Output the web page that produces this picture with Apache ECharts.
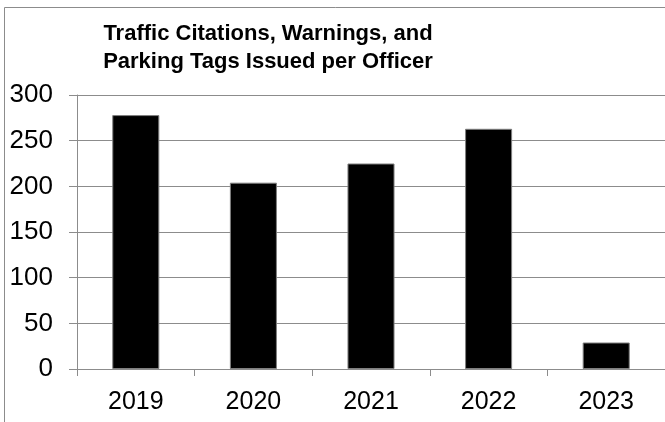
<!DOCTYPE html>
<html>
<head>
<meta charset="utf-8">
<style>
  html, body { margin: 0; padding: 0; background: #ffffff; }
  #chart { width: 665px; height: 422px; }
</style>
<script src="https://cdn.jsdelivr.net/npm/echarts@6/dist/echarts.min.js"></script>
</head>
<body>
<div id="chart"></div>
<script>
// Citations, warnings and parking tags issued per officer, by year
const years = ['2019', '2020', '2021', '2022', '2023'];
const perOfficer = [278, 204, 225, 263, 29];
const yTicks = [0, 50, 100, 150, 200, 250, 300];

const FONT = '"Liberation Sans", Arial, sans-serif';
const chart = echarts.init(document.getElementById('chart'), null, { renderer: 'canvas' });

chart.setOption({
  backgroundColor: '#ffffff',
  animation: false,
  title: {
    text: 'Traffic Citations, Warnings, and\nParking Tags Issued per Officer',
    left: 263,
    top: 15,
    textAlign: 'center',
    textStyle: {
      fontFamily: FONT,
      fontWeight: 'bold',
      fontSize: 22,
      lineHeight: 28,
      color: '#000000'
    }
  },
  graphic: [{
    type: 'rect',
    silent: true,
    z: -1,
    shape: { x: 4.5, y: 7.5, width: 700, height: 500 },
    style: { fill: 'none', stroke: '#8c8c8c', lineWidth: 1 }
  }],
  grid: { left: 77, right: -8, top: 95, bottom: 53, containLabel: false },
  xAxis: {
    type: 'category',
    data: years,
    axisLine: { show: true, lineStyle: { color: '#8c8c8c', width: 1 } },
    axisTick: { show: true, length: 7, alignWithLabel: false, lineStyle: { color: '#8c8c8c' } },
    axisLabel: { color: '#000000', fontFamily: FONT, fontSize: 25, margin: 21 },
    splitLine: { show: false }
  },
  yAxis: {
    type: 'value',
    min: yTicks[0],
    max: yTicks[yTicks.length - 1],
    interval: 50,
    axisLine: { show: true, lineStyle: { color: '#8c8c8c', width: 1 } },
    axisTick: { show: true, inside: false, length: 8, lineStyle: { color: '#8c8c8c' } },
    axisLabel: { color: '#000000', fontFamily: FONT, fontSize: 26, margin: 24 },
    splitLine: { show: true, lineStyle: { color: '#8c8c8c', width: 1 } }
  },
  series: [{
    type: 'bar',
    data: perOfficer,
    barWidth: '40%',
    itemStyle: { color: '#000000', borderColor: '#7f7f7f', borderWidth: 1 }
  }]
});
</script>
</body>
</html>
